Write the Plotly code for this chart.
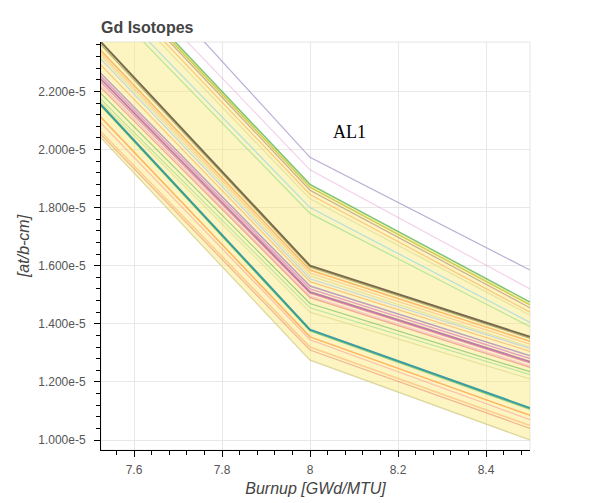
import plotly.graph_objects as go

# Burnup grid points [GWd/MTU]
burnup = [7.5, 8.0, 8.5]

# Number densities [at/b-cm] (x1e-5) for each case
series_values = [
    [2.80, 1.973, 1.585],   # AL1 (lavender)
    [2.72, 1.930, 1.520],
    [2.68, 1.880, 1.475],
    [2.67, 1.870, 1.465],
    [2.66, 1.860, 1.455],
    [2.64, 1.845, 1.440],
    [2.62, 1.830, 1.430],
    [2.58, 1.800, 1.405],
    [2.56, 1.780, 1.390],
    [2.41, 1.600, 1.355],
    [2.40, 1.595, 1.350],
    [2.38, 1.585, 1.340],
    [2.37, 1.575, 1.330],
    [2.36, 1.565, 1.320],
    [2.35, 1.555, 1.315],
    [2.33, 1.545, 1.305],
    [2.30, 1.530, 1.290],
    [2.29, 1.520, 1.280],
    [2.28, 1.510, 1.270],
    [2.27, 1.505, 1.265],
    [2.26, 1.495, 1.255],
    [2.25, 1.490, 1.250],
    [2.23, 1.470, 1.235],
    [2.21, 1.455, 1.225],
    [2.20, 1.440, 1.210],
    [2.195, 1.380, 1.110],
    [2.19, 1.375, 1.105],
    [2.15, 1.355, 1.085],
    [2.13, 1.345, 1.070],
    [2.10, 1.320, 1.050],
    [2.09, 1.310, 1.040],
    [2.08, 1.275, 1.000],
]

line_colors = [
    "rgba(165,145,200,0.75)", "rgba(227,119,194,0.35)", "rgba(44,160,44,0.6)",
    "rgba(188,189,34,0.7)", "rgba(140,86,75,0.45)", "rgba(255,127,14,0.4)",
    "rgba(219,219,141,0.7)", "rgba(158,218,229,0.8)", "rgba(152,223,138,0.7)",
    "rgba(90,70,50,0.8)", "rgba(140,140,60,0.6)", "rgba(255,127,14,0.5)",
    "rgba(255,187,120,0.7)", "rgba(219,219,141,0.7)", "rgba(174,199,232,0.7)",
    "rgba(255,150,60,0.5)", "rgba(148,103,189,0.6)", "rgba(227,119,194,0.7)",
    "rgba(160,80,150,0.7)", "rgba(214,39,144,0.45)", "rgba(247,182,210,0.7)",
    "rgba(214,39,40,0.35)", "rgba(44,160,44,0.45)", "rgba(152,223,138,0.7)",
    "rgba(219,219,141,0.7)", "rgba(23,140,160,0.85)", "rgba(44,160,44,0.45)",
    "rgba(255,127,14,0.55)", "rgba(255,152,150,0.6)", "rgba(255,187,120,0.7)",
    "rgba(214,39,40,0.3)", "rgba(200,190,110,0.6)",
]
line_widths = [1.2, 1.2, 1.5, 1.5, 1.2, 1.2, 1.2, 1.2, 1.2,
               2.0, 1.2, 1.5, 1.2, 1.2, 1.2, 1.2, 1.5, 1.5,
               1.8, 1.2, 1.5, 1.2, 1.2, 1.2, 1.2, 2.0, 1.2,
               1.5, 1.2, 1.5, 1.2, 1.2]

band_low = series_values[-1]
band_high = series_values[2]

y_tickvals = [1.0, 1.2, 1.4, 1.6, 1.8, 2.0, 2.2]
y_ticktext = ["1.000e-5", "1.200e-5", "1.400e-5", "1.600e-5", "1.800e-5",
              "2.000e-5", "2.200e-5"]
x_tickvals = [7.6, 7.8, 8.0, 8.2, 8.4]
x_ticktext = ["7.6", "7.8", "8", "8.2", "8.4"]

scale = 1e-5

fig = go.Figure()

# Yellow envelope band
fig.add_trace(go.Scatter(x=burnup, y=[v * scale for v in band_low], mode="lines",
                         line=dict(width=0), showlegend=False, hoverinfo="skip"))
fig.add_trace(go.Scatter(x=burnup, y=[v * scale for v in band_high], mode="lines",
                         line=dict(width=0), fill="tonexty",
                         fillcolor="rgba(248,232,110,0.42)", showlegend=False,
                         hoverinfo="skip"))

for vals, c, w in zip(series_values, line_colors, line_widths):
    fig.add_trace(go.Scatter(x=burnup, y=[v * scale for v in vals], mode="lines",
                             line=dict(color=c, width=w), showlegend=False))

fig.add_annotation(x=8.09, y=2.06 * scale, text="AL1", showarrow=False,
                   font=dict(family="Liberation Serif", size=18, color="black"))

axis_font = dict(family="Liberation Sans", size=12, color="#555")
title_font = dict(family="Liberation Sans", size=16, color="#444")
fig.update_xaxes(range=[7.525, 8.5], tickmode="array", tickvals=x_tickvals,
                 ticktext=x_ticktext, ticks="outside", ticklen=6, tickcolor="black",
                 showline=True, linecolor="black", linewidth=1,
                 showgrid=True, gridcolor="#e8e8e8", zeroline=False,
                 tickfont=axis_font, ticklabelstandoff=3, automargin=False,
                 minor=dict(tickmode="linear", tick0=7.6, dtick=0.04, ticks="outside",
                            ticklen=4, tickcolor="black", showgrid=False),
                 title=dict(text="<i>Burnup [GWd/MTU]</i>", standoff=6, font=title_font))
fig.update_yaxes(range=[0.9656 * scale, 2.37 * scale], tickmode="array",
                 tickvals=[v * scale for v in y_tickvals], ticktext=y_ticktext,
                 ticks="outside", ticklen=6, tickcolor="black",
                 showline=True, linecolor="black", linewidth=1,
                 showgrid=True, gridcolor="#e8e8e8", zeroline=False,
                 tickfont=axis_font, ticklabelstandoff=6, automargin=False,
                 minor=dict(tickmode="linear", tick0=1.0 * scale, dtick=0.04 * scale,
                            ticks="outside", ticklen=4, tickcolor="black", showgrid=False),
                 title=dict(text="<i>[at/b-cm]</i>", standoff=4, font=title_font))

fig.add_shape(type="rect", xref="paper", yref="paper", x0=0, y0=0, x1=1, y1=1,
              line=dict(color="#e5e5e5", width=1), layer="below")

fig.update_layout(
    width=591, height=503,
    margin=dict(l=101, r=61, t=42, b=53),
    paper_bgcolor="white", plot_bgcolor="white",
    title=dict(text="<b>Gd Isotopes</b>", x=101 / 591, xanchor="left",
               y=1 - 27 / 503, yanchor="middle",
               font=dict(family="Liberation Sans", size=16, color="#444")),
    showlegend=False,
)

fig.write_html("out.html")
